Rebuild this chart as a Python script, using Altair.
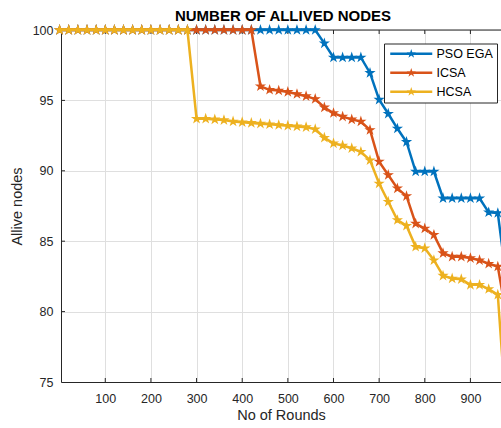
import altair as alt
import pandas as pd

# Simulation rounds (x) and alive-node counts per protocol (y)
rounds = [0, 20, 40, 60, 80, 100, 120, 140, 160, 180, 200, 220, 240, 260, 280,
          300, 320, 340, 360, 380, 400, 420, 440, 460, 480, 500, 520, 540, 560,
          580, 600, 620, 640, 660, 680, 700, 720, 740, 760, 780, 800, 820, 840,
          860, 880, 900, 920, 940, 960, 980]

pso_ega = [100, 100, 100, 100, 100, 100, 100, 100, 100, 100, 100, 100, 100, 100, 100,
           100, 100, 100, 100, 100, 100, 100, 100, 100, 100, 100, 100, 100, 100,
           99.05, 98.05, 98.05, 98.05, 98.05, 96.95, 95.05, 94.05, 93.0, 92.05, 89.95,
           89.95, 89.95, 88.05, 88.05, 88.05, 88.05, 88.05, 87.05, 87.0, 82.0]

icsa = [100, 100, 100, 100, 100, 100, 100, 100, 100, 100, 100, 100, 100, 100, 100,
        100, 100, 100, 100, 100, 100, 100,
        96.0, 95.75, 95.7, 95.6, 95.45, 95.3, 95.1, 94.5, 94.1, 93.85, 93.65, 93.5,
        92.9, 90.65, 89.7, 88.75, 88.2, 86.25, 85.9, 85.45, 84.15, 83.9, 83.9, 83.8,
        83.65, 83.4, 83.2, 79.5]

hcsa = [100, 100, 100, 100, 100, 100, 100, 100, 100, 100, 100, 100, 100, 100, 100,
        93.7, 93.7, 93.65, 93.6, 93.5, 93.45, 93.4, 93.35, 93.3, 93.25, 93.2, 93.15,
        93.1, 92.95, 92.35, 91.95, 91.8, 91.6, 91.35, 90.75, 89.1, 87.8, 86.5, 86.1,
        84.6, 84.5, 83.65, 82.55, 82.35, 82.3, 81.9, 81.9, 81.6, 81.2, 72.0]

series_names = ["PSO EGA", "ICSA", "HCSA"]
series_colors = ["#0072BD", "#D95319", "#EDB120"]

x_ticks = [100, 200, 300, 400, 500, 600, 700, 800, 900]
y_ticks = [75, 80, 85, 90, 95, 100]

W, H = 440, 352
FONT = "Liberation Sans"
AXIS_COLOR = "#262626"
GRID_COLOR = "#dfdfdf"

# five-pointed star outline in unit coordinates
STAR_PTS = [(0, -1), (0.225, -0.309), (0.951, -0.309), (0.363, 0.118), (0.588, 0.809),
            (0, 0.382), (-0.588, 0.809), (-0.363, 0.118), (-0.951, -0.309), (-0.225, -0.309)]


def star_path(cx=0.0, r=1.0):
    pts = ["%s%.3f,%.3f" % ("M" if i == 0 else "L", cx + px * r, py * r)
           for i, (px, py) in enumerate(STAR_PTS)]
    return "".join(pts) + "Z"


STAR = star_path()
# legend swatch: a thick line segment with a star in its middle
LEGEND_SYMBOL = "M-1,-0.32L9.5,-0.32L9.5,0.32L-1,0.32Z" + star_path(cx=4.25, r=1.2)

df = pd.DataFrame({
    "round": rounds * 3,
    "alive": pso_ega + icsa + hcsa,
    "series": sum([[n] * len(rounds) for n in series_names], []),
})

x_scale = alt.Scale(domain=[3, 967], nice=False, zero=False)
y_scale = alt.Scale(domain=[75, 100], nice=False, zero=False)

x_axis = alt.Axis(values=x_ticks, title="No of Rounds", grid=True, gridColor=GRID_COLOR,
                  ticks=False, domainColor=AXIS_COLOR, labelColor=AXIS_COLOR,
                  labelFont=FONT, labelFontSize=12.5, labelPadding=10,
                  titleFont=FONT, titleFontSize=14.5, titleFontWeight="normal",
                  titleColor=AXIS_COLOR, titlePadding=4)
y_axis = alt.Axis(values=y_ticks, title="Allive nodes", grid=True, gridColor=GRID_COLOR,
                  ticks=False, domainColor=AXIS_COLOR, labelColor=AXIS_COLOR,
                  labelFont=FONT, labelFontSize=12.5, labelPadding=8,
                  titleFont=FONT, titleFontSize=14.5, titleFontWeight="normal",
                  titleColor=AXIS_COLOR, titlePadding=8)

color_scale = alt.Scale(domain=series_names, range=series_colors)

# base layer carries the axes and the legend (it is covered by the series layers)
base = alt.Chart(df).mark_point(shape=STAR, filled=True, size=50, opacity=1).encode(
    x=alt.X("round:Q", scale=x_scale, axis=x_axis),
    y=alt.Y("alive:Q", scale=y_scale, axis=y_axis),
    color=alt.Color("series:N", scale=color_scale, sort=series_names,
                    legend=alt.Legend(
                        title=None, orient="none", legendX=323, legendY=13.5,
                        direction="vertical", strokeColor=AXIS_COLOR, fillColor="white",
                        padding=4, symbolType=LEGEND_SYMBOL, symbolSize=64,
                        symbolStrokeWidth=0, symbolOpacity=1, labelOffset=36,
                        labelFont=FONT, labelFontSize=12.5, labelColor="black",
                        rowPadding=6)),
)

# inward tick marks on bottom, top and left edges
xt = pd.DataFrame({"t": x_ticks})
yt = pd.DataFrame({"t": y_ticks[1:-1]})
tick_bottom = alt.Chart(xt).mark_rule(color=AXIS_COLOR, strokeWidth=1).encode(
    x=alt.X("t:Q", scale=x_scale), y=alt.value(H), y2=alt.value(H - 4))
tick_top = alt.Chart(xt).mark_rule(color=AXIS_COLOR, strokeWidth=1).encode(
    x=alt.X("t:Q", scale=x_scale), y=alt.value(0), y2=alt.value(4))
tick_left = alt.Chart(yt).mark_rule(color=AXIS_COLOR, strokeWidth=1).encode(
    y=alt.Y("t:Q", scale=y_scale), x=alt.value(0), x2=alt.value(4))
top_border = alt.Chart(pd.DataFrame({"a": [0]})).mark_rule(
    color=AXIS_COLOR, strokeWidth=1).encode(x=alt.value(0), x2=alt.value(W), y=alt.value(0))

layers = [tick_bottom, tick_top, tick_left, top_border, base]
for name, col in zip(series_names, series_colors):
    sub = df[df["series"] == name]
    line = alt.Chart(sub).mark_line(color=col, strokeWidth=2.5).encode(
        x=alt.X("round:Q", scale=x_scale), y=alt.Y("alive:Q", scale=y_scale))
    pts = alt.Chart(sub).mark_point(shape=STAR, filled=True, fill=col, stroke=col,
                                    strokeWidth=1.3, size=58, opacity=1).encode(
        x=alt.X("round:Q", scale=x_scale), y=alt.Y("alive:Q", scale=y_scale))
    layers += [line, pts]

chart = alt.layer(*layers).properties(
    width=W, height=H,
    padding={"left": 61, "top": 30, "right": 0, "bottom": 46},
    autosize=alt.AutoSizeParams(type="none"),
    title=alt.TitleParams("NUMBER OF ALLIVED NODES", font=FONT, fontSize=15,
                          fontWeight="bold", color="black", anchor="middle",
                          frame="group", dx=2, offset=0),
).configure_view(stroke=None).configure(background="white")

chart.save("out.html", embed_options={"renderer": "svg", "actions": False})
